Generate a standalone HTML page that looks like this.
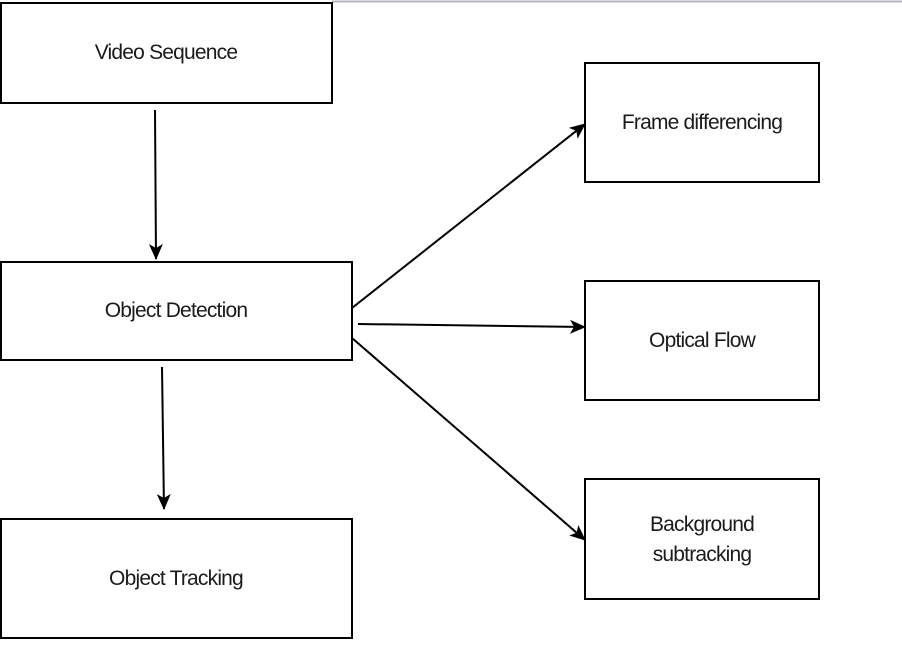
<!DOCTYPE html>
<html><head><meta charset="utf-8"><style>
html,body{margin:0;padding:0;background:#fff;}
body{width:902px;height:648px;overflow:hidden;}
svg text{font-family:"Liberation Sans",Arial,sans-serif;font-size:21px;fill:#1a1a1a;letter-spacing:-0.8px;}
</style></head><body>
<svg width="902" height="648" viewBox="0 0 902 648" xmlns="http://www.w3.org/2000/svg">
<defs><marker id="a" markerWidth="16" markerHeight="14" refX="15" refY="7" orient="auto" markerUnits="userSpaceOnUse"><path d="M0,0 L16,7 L0,14 L4,7 Z" fill="#000"/></marker></defs>
<line x1="332" y1="1.5" x2="902" y2="1.5" stroke="#b0b8c4" stroke-width="2"/>
<g fill="#fff" stroke="#000" stroke-width="2">
<rect x="1" y="3" width="331" height="100"/>
<rect x="1" y="262" width="351" height="98"/>
<rect x="1" y="519" width="351" height="119"/>
<rect x="585" y="63" width="234" height="119"/>
<rect x="585" y="281" width="234" height="119"/>
<rect x="585" y="479" width="234" height="120"/>
</g>
<g stroke="#000" stroke-width="2" marker-end="url(#a)">
<line x1="155" y1="110" x2="156" y2="259"/>
<line x1="162" y1="367" x2="164" y2="509"/>
<line x1="352" y1="308" x2="585" y2="124"/>
<line x1="358" y1="324" x2="585" y2="327"/>
<line x1="352" y1="338" x2="585" y2="540"/>
</g>
<g text-anchor="middle">
<text x="166" y="59">Video  Sequence</text>
<text x="176" y="317">Object Detection</text>
<text x="176" y="585">Object Tracking</text>
<text x="702" y="129">Frame differencing</text>
<text x="702" y="347">Optical Flow</text>
<text x="702" y="531">Background</text>
<text x="702" y="561">subtracking</text>
</g>
</svg>
</body></html>
